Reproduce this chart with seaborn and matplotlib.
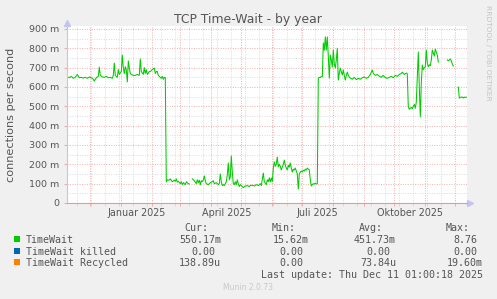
import matplotlib
matplotlib.use('Agg')
import matplotlib.pyplot as plt
import matplotlib.dates as mdates
from matplotlib.patches import Rectangle
from matplotlib.ticker import MultipleLocator, FuncFormatter, FixedLocator
import seaborn as sns
import numpy as np
import pandas as pd

nan = np.nan

# days after 1 Jan 2025 and TimeWait rate (milli connections / s), nan = no data
days = [-54, -52, -50, -48, -46, -44, -42, -40, -38, -36, -34, -32, -30, -28, -27, -25, -23, -22, -21, -19,
        -17, -15, -13, -11, -9, -8, -7, -6, -4, -3, -2, 0, 1, 2, 3, 4, 5, 6, 7, 8,
        9, 10, 12, 14, 16, 18, 19, 20, 22, 23, 24, 25, 26, 28, 29, 31, 33, 34, 35, 36,
        37, 39, 40, 41, 42, 43, 44,
        45, 46, 48, 49, 51, 53, 54, 55, 56, 57, 59, 60, 61, 62, 64, 65, 67, 68, 69,
        71, 72, 73, 75, 76, 77, 78, 79, 80, 81, 82, 83, 84, 85, 87, 88, 89, 91, 92, 93,
        95, 97, 98, 99, 100, 101, 102, 103, 104, 105, 106, 107, 108, 109, 110, 111, 112, 113, 114, 115,
        116, 117, 118, 119, 120, 122, 124, 126, 128, 129, 131, 133, 135, 137, 139, 140, 142, 143, 145, 146,
        147, 148, 149, 150, 151, 152, 153, 154, 155, 156, 157, 158, 159, 160, 161, 162, 163, 164, 165, 166,
        167, 168, 169, 170, 171, 172, 173, 174, 175, 176, 177, 178, 179, 180, 181, 182, 183, 184, 185, 186,
        187, 188, 189, 190, 191, 192, 193, 194, 195, 196,
        197, 198, 199, 200, 201, 202, 203, 204, 205, 206, 207, 208, 209, 210, 211, 212, 213, 214, 215, 216,
        217, 218, 219, 220, 221, 222, 223, 224, 225, 226, 227, 228, 229, 231, 233, 235, 237, 239, 241, 243,
        245, 247, 249, 251, 252, 254, 256, 258, 260, 262, 264, 266, 268, 270, 272, 274, 276, 278, 280, 281,
        283, 285, 286, 287, 288, 289, 290, 291, 292, 293, 294, 295, 296, 297, 298, 299, 300, 301, 302, 303,
        304, 305, 306, 307, 308, 309, 310, 311, 312, 313, 314, 315, 316, 317, 318,
        326, 327, 328, 329, 330, 331, 332, 333,
        337, 338, 339, 340, 341, 342, 343, 344, 345]
timewait = [652, 648, 655, 645, 650, 665, 648, 650, 646, 650, 645, 652, 648, 640, 630, 648, 655, 703, 660, 652,
            650, 655, 648, 650, 645, 660, 724, 660, 650, 690, 665, 680, 765, 700, 670, 705, 690, 626, 735, 700,
            670, 665, 660, 660, 665, 660, 745, 680, 665, 700, 670, 690, 665, 680, 680, 690, 698, 670, 680, 680,
            660, 650, 645, 655, 640, 650, 648,
            109, 120, 118, 125, 110, 118, 112, 125, 108, 112, 100, 110, 95, 105, 95, 110, 100, 98, nan,
            125, 120, 115, 100, 120, 105, 118, 95, 115, 110, 118, 140, 115, 100, 95, 100, 105, 110, 115, 100,
            105, 95, 100, 150, 110, 90, 95, 90, 100, 110, 145, 207, 120, 135, 243, 160, 100, 95, 110, 95,
            120, 100, 85, 95, 90, 80, 88, 90, 85, 90, 92, 88, 95, 90, 100, 90, 155, 110, 95, 120,
            110, 130, 109, 129, 110, 180, 212, 190, 200, 238, 186, 200, 190, 171, 185, 200, 222, 195, 180, 171,
            195, 185, 207, 180, 160, 175, 170, 181, 165, 150, 72, 150, 160, 165, 160, 170, 165, 175, 170, 181,
            175, 171, 120, 88, 95, 100, 98, 103, 98, 100,
            646, 650, 648, 655, 652, 828, 790, 859, 791, 859, 760, 646, 765, 740, 703, 791, 720, 698, 740, 800,
            636, 670, 698, 680, 662, 688, 660, 636, 660, 677, 660, 650, 646, 640, 650, 638, 645, 640, 648, 652,
            645, 650, 665, 688, 670, 660, 665, 655, 650, 660, 648, 645, 650, 655, 648, 660, 655, 665, 670, 677,
            665, 672, 668, 497, 485, 490, 495, 488, 500, 510, 490, 522, 650, 781, 600, 445, 620, 714, 690, 700,
            705, 791, 724, 705, 715, 710, 740, 791, 776, 760, 796, 780, 765, 729, nan,
            740, 735, 740, 745, 735, 720, 708, nan,
            600, 543, 545, 548, 548, 543, 548, 545, 548]

legend_names = ['TimeWait', 'TimeWait killed', 'TimeWait Recycled']
legend_colors = ['#00CC00', '#0066B3', '#FF8000']
cur_vals = ['550.17m', '0.00', '138.89u']
min_vals = ['15.62m', '0.00', '0.00']
avg_vals = ['451.73m', '0.00', '73.84u']
max_vals = ['8.76', '0.00', '19.60m']
month_labels = ['Januar 2025', 'April 2025', 'Juli 2025', 'Oktober 2025']
label_dates = ['2025-01-16', '2025-04-16', '2025-07-16', '2025-10-17']

W, H = 497, 299
def fx(x):
    return x / W
def fy(y):
    return 1 - y / H

base = pd.Timestamp('2025-01-01')
df = pd.DataFrame({'date': base + pd.to_timedelta(days, unit='D'), 'val': timewait})
df['seg'] = df['val'].isna().cumsum()
df = df.dropna()

fig = plt.figure(figsize=(4.97, 2.99), dpi=100, facecolor='#F0F0F0')
ax = fig.add_axes([fx(67), fy(203), fx(400), (203 - 26) / H])
ax.set_facecolor('white')

sns.lineplot(data=df, x='date', y='val', units='seg', estimator=None,
             color='#00CC00', linewidth=0.75, ax=ax, legend=False)

x0 = base + pd.Timedelta(days=-54.3)
x1 = base + pd.Timedelta(days=345.7)
ax.set_xlim(x0, x1)
ax.set_ylim(0, 900 * 177 / 174)

red = '#EDB0B0'
grey = '#DADADA'
dots = (0, (1, 1.5))

ax.yaxis.set_major_locator(MultipleLocator(100))
ax.yaxis.set_minor_locator(MultipleLocator(50))
ax.yaxis.set_major_formatter(FuncFormatter(lambda v, p: '0' if v == 0 else f'{int(round(v))} m'))
ax.xaxis.set_major_locator(mdates.MonthLocator())
anchor = pd.Timestamp('2025-08-11')
minor = [anchor + pd.Timedelta(days=14 * k) for k in range(-30, 10)]
minor = [mdates.date2num(d) for d in minor if x0 <= d <= x1]
ax.xaxis.set_minor_locator(FixedLocator(minor))
ax.xaxis.set_major_formatter(FuncFormatter(lambda v, p: ''))

ax.grid(which='major', color=red, linestyle=dots, linewidth=0.7)
ax.grid(which='minor', color=grey, linestyle=dots, linewidth=0.7)
ax.set_axisbelow(True)

ax.tick_params(axis='y', which='major', length=2, color=red, labelsize=6.8,
               labelcolor='#555555', pad=3.5)
ax.tick_params(axis='y', which='minor', length=0)
ax.tick_params(axis='x', which='major', length=2.5, color=red, width=0.7)
ax.tick_params(axis='x', which='minor', length=2.5, color=grey, width=0.7)

for s in ['top', 'right']:
    ax.spines[s].set_visible(False)
ax.spines['left'].set_color('#C4C4F2')
ax.spines['left'].set_linewidth(0.8)
ax.spines['bottom'].set_color('#E39A9A')
ax.spines['bottom'].set_linewidth(0.8)
ax.plot([0], [1 + 3 / 177], marker='^', ms=4, color='#C4C4F2', transform=ax.transAxes, clip_on=False)
ax.plot([1 + 3 / 400], [0], marker='>', ms=4, color='#C4C4F2', transform=ax.transAxes, clip_on=False)

ax.set_xlabel('')
ax.set_ylabel('')
for lab, d in zip(month_labels, label_dates):
    ax.text(pd.Timestamp(d), -10 / 177, lab, transform=ax.get_xaxis_transform(),
            ha='center', va='center', fontsize=6.9, color='#555555')

fig.text(fx(248), fy(19), 'TCP Time-Wait - by year', ha='center', va='center',
         fontsize=8.9, color='#555555')
fig.text(fx(11), fy(115), 'connections per second', rotation=90, ha='center', va='center',
         fontsize=8.1, color='#555555')
fig.text(fx(488), fy(53), 'RRDTOOL / TOBI OETIKER', rotation=270, ha='center', va='center',
         fontsize=5.4, color='#C4C4C4')

mono = 'DejaVu Sans Mono'
fs = 7.2
tc = '#555555'
cw = 6.0
heads = [('Cur:', 208), ('Min:', 296), ('Avg:', 383), ('Max:', 470)]
for h, xr in heads:
    fig.text(fx(xr), fy(231), h, ha='right', va='baseline', family=mono, fontsize=fs, color=tc)

rows_y = [243, 255, 266]
for i in range(3):
    y = rows_y[i]
    fig.patches.append(Rectangle((fx(14), fy(y - 1)), fx(6), 6 / H, transform=fig.transFigure,
                                 facecolor=legend_colors[i], edgecolor='none'))
    fig.text(fx(26), fy(y), legend_names[i], ha='left', va='baseline', family=mono, fontsize=fs, color=tc)
    for col, xr in zip([cur_vals, min_vals, avg_vals, max_vals], [221, 309, 396, 483]):
        s = col[i]
        right = xr if s[-1] in 'mu' else xr - cw
        fig.text(fx(right), fy(y), s, ha='right', va='baseline', family=mono, fontsize=fs, color=tc)

fig.text(fx(483), fy(278), 'Last update: Thu Dec 11 01:00:18 2025', ha='right', va='baseline',
         family=mono, fontsize=fs, color=tc)
fig.text(fx(248), fy(288), 'Munin 2.0.73', ha='center', va='center', fontsize=5.5, color='#C8C8C8')

fig.savefig('out.png', dpi=100, facecolor=fig.get_facecolor())
